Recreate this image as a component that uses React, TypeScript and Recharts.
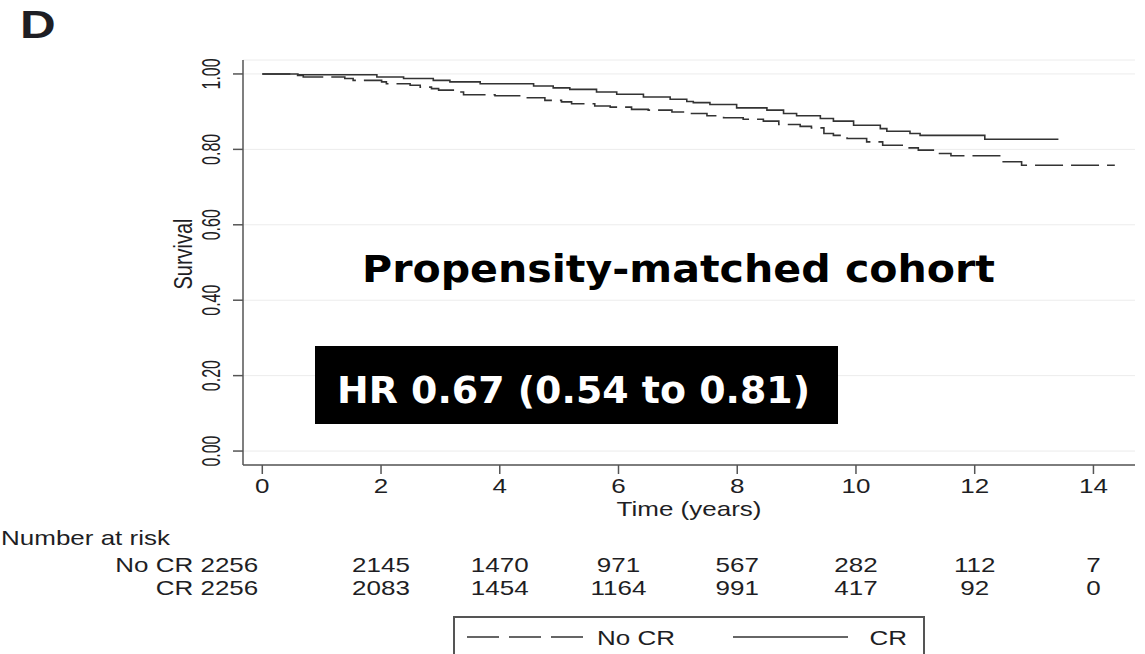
import { LineChart, Line, XAxis, YAxis, CartesianGrid, Legend } from 'recharts';

// Kaplan-Meier steps (time in years, survival)
const crTime = [0, 0.6, 1.93, 2.38, 2.88, 3.16, 3.67, 4.57, 4.9, 5.18, 5.63, 5.97, 6.42, 6.87, 7.15, 7.26, 7.54, 7.99, 8.5, 8.78, 9.0, 9.4, 9.62, 9.96, 10.41, 10.52, 10.91, 11.08, 12.17, 13.41];
const crSurv = [1.0, 0.998, 0.992, 0.988, 0.983, 0.979, 0.974, 0.968, 0.963, 0.959, 0.952, 0.946, 0.939, 0.933, 0.927, 0.924, 0.919, 0.91, 0.904, 0.895, 0.889, 0.882, 0.875, 0.864, 0.855, 0.848, 0.842, 0.837, 0.827, 0.827];

const noCrTime = [0, 0.55, 0.69, 1.39, 1.53, 2.01, 2.09, 2.49, 2.66, 2.85, 2.97, 3.25, 3.39, 3.92, 4.37, 4.76, 5.04, 5.21, 5.6, 5.86, 6.22, 6.5, 6.9, 7.17, 7.49, 7.77, 8.1, 8.44, 8.7, 9.06, 9.25, 9.46, 9.62, 9.85, 10.18, 10.45, 10.8, 11.05, 11.36, 11.6, 12.48, 12.79, 14.36];
const noCrSurv = [1.0, 0.996, 0.992, 0.988, 0.983, 0.979, 0.974, 0.97, 0.965, 0.961, 0.957, 0.952, 0.945, 0.942, 0.937, 0.93, 0.926, 0.921, 0.915, 0.912, 0.906, 0.904, 0.899, 0.895, 0.889, 0.884, 0.88, 0.875, 0.866, 0.861, 0.857, 0.842, 0.837, 0.829, 0.82, 0.811, 0.804, 0.798, 0.789, 0.783, 0.767, 0.758, 0.758];

const seriesNames = ['No CR', 'CR'];
const timeTicks = [0, 2, 4, 6, 8, 10, 12, 14];
const survTicks = [0, 0.2, 0.4, 0.6, 0.8, 1.0];
const riskNoCr = [2256, 2145, 1470, 971, 567, 282, 112, 7];
const riskCr = [2256, 2083, 1454, 1164, 991, 417, 92, 0];

const crData = crTime.map((t, i) => ({ t, s: crSurv[i] }));
const noCrData = noCrTime.map((t, i) => ({ t, s: noCrSurv[i] }));

const X_DOMAIN: [number, number] = [-0.325, 14.7];
const Y_DOMAIN: [number, number] = [-0.037, 1.037];
const FONT = '"Liberation Sans", Arial, Helvetica, sans-serif';
const INK = '#1e1e24';
const AXIS = '#555';
const LINE = '#333';
const SX = 1.3; // the source figure is stretched sideways

function SText({ x, y, size = 20, anchor = 'middle', weight = 400, fill = INK, sx = SX, rotate = 0, children }: any) {
  return (
    <text
      transform={`translate(${x},${y}) scale(${sx},1)${rotate ? ` rotate(${rotate})` : ''}`}
      textAnchor={anchor}
      fontSize={size}
      fontFamily={FONT}
      fontWeight={weight}
      fill={fill}
    >
      {children}
    </text>
  );
}

const TimeTick = ({ x, y, payload }: any) => <SText x={x} y={y + 19}>{payload.value}</SText>;

const SurvTick = ({ x, y, payload }: any) => (
  <SText x={x - 13} y={y} size={16} sx={1.6} rotate={-90}>{payload.value.toFixed(2)}</SText>
);

function RiskTick({ x, y, payload, label, values }: any) {
  const v = values[timeTicks.indexOf(payload.value)];
  if (payload.value === 0) return <SText x={x - 4} y={y + 22} anchor="end">{`${label} ${v}`}</SText>;
  return <SText x={x} y={y + 22}>{v}</SText>;
}

function LegendBox() {
  return (
    <svg width={472} height={60} style={{ display: 'block' }}>
      <rect x={1} y={1} width={470} height={80} fill="none" stroke={AXIS} strokeWidth={2} />
      <line x1={14} x2={130} y1={21} y2={21} stroke={LINE} strokeWidth={1.5} strokeDasharray="32 10" />
      <SText x={144} y={29} anchor="start">{seriesNames[0]}</SText>
      <line x1={280} x2={395} y1={21} y2={21} stroke={LINE} strokeWidth={1.5} />
      <SText x={454} y={29} anchor="end">{seriesNames[1]}</SText>
    </svg>
  );
}

export default function App() {
  return (
    <div style={{ position: 'absolute', left: 0, top: 0, width: 1145, height: 654, overflow: 'hidden', background: '#fff' }}>
      <LineChart width={1145} height={654} margin={{ top: 60, right: 10, bottom: 58, left: 0 }}>
        <CartesianGrid xAxisId="main" vertical={false} stroke="#ececec" strokeWidth={1} />
        <XAxis
          xAxisId="main"
          type="number"
          dataKey="t"
          domain={X_DOMAIN}
          ticks={timeTicks}
          interval={0}
          allowDataOverflow
          height={85}
          tickSize={9}
          tickMargin={0}
          stroke={AXIS}
          strokeWidth={1.5}
          tick={TimeTick}
          label={{
            content: ({ viewBox }: any) => (
              <SText x={viewBox.x + viewBox.width / 2} y={viewBox.y + 51}>Time (years)</SText>
            ),
          }}
        />
        <XAxis
          xAxisId="r1"
          type="number"
          dataKey="t"
          domain={X_DOMAIN}
          ticks={timeTicks}
          interval={0}
          allowDataOverflow
          height={23}
          axisLine={false}
          tickLine={false}
          tickSize={0}
          tickMargin={0}
          tick={(p: any) => <RiskTick {...p} label={seriesNames[0]} values={riskNoCr} />}
        />
        <XAxis
          xAxisId="r2"
          type="number"
          dataKey="t"
          domain={X_DOMAIN}
          ticks={timeTicks}
          interval={0}
          allowDataOverflow
          height={23}
          axisLine={false}
          tickLine={false}
          tickSize={0}
          tickMargin={0}
          tick={(p: any) => <RiskTick {...p} label={seriesNames[1]} values={riskCr} />}
        />
        <YAxis
          type="number"
          domain={Y_DOMAIN}
          ticks={survTicks}
          interval={0}
          allowDataOverflow
          width={243}
          tickSize={10}
          tickMargin={0}
          stroke={AXIS}
          strokeWidth={1.5}
          tick={SurvTick}
          label={{
            content: ({ viewBox }: any) => (
              <SText x={viewBox.x + 192} y={254} rotate={-90}>Survival</SText>
            ),
          }}
        />
        <Legend
          layout="horizontal"
          verticalAlign="middle"
          align="center"
          content={LegendBox}
          wrapperStyle={{ left: 453, top: 616, bottom: 'auto', width: 472, height: 60 }}
        />
        <Line xAxisId="main" data={noCrData} dataKey="s" name={seriesNames[0]} type="stepAfter" stroke={LINE} strokeWidth={1.6} strokeDasharray="28 8" dot={false} isAnimationActive={false} />
        <Line xAxisId="main" data={crData} dataKey="s" name={seriesNames[1]} type="stepAfter" stroke={LINE} strokeWidth={1.6} dot={false} isAnimationActive={false} />
      </LineChart>

      <svg width={1145} height={654} style={{ position: 'absolute', left: 0, top: 0, pointerEvents: 'none' }}>
        <SText x={20} y={38} size={38} weight={700} anchor="start">D</SText>
        <text x={362} y={282} fontSize={37} fontWeight={700} fontFamily='"DejaVu Sans", sans-serif' fill="#000" textLength={633} lengthAdjust="spacingAndGlyphs">
          Propensity-matched cohort
        </text>
        <rect x={315} y={346} width={523} height={78} fill="#000" />
        <text x={337} y={403} fontSize={38} fontWeight={700} fontFamily='"DejaVu Sans", sans-serif' fill="#fff" textLength={473} lengthAdjust="spacingAndGlyphs">
          HR 0.67 (0.54 to 0.81)
        </text>
        <SText x={1} y={545} anchor="start">Number at risk</SText>
      </svg>
    </div>
  );
}
